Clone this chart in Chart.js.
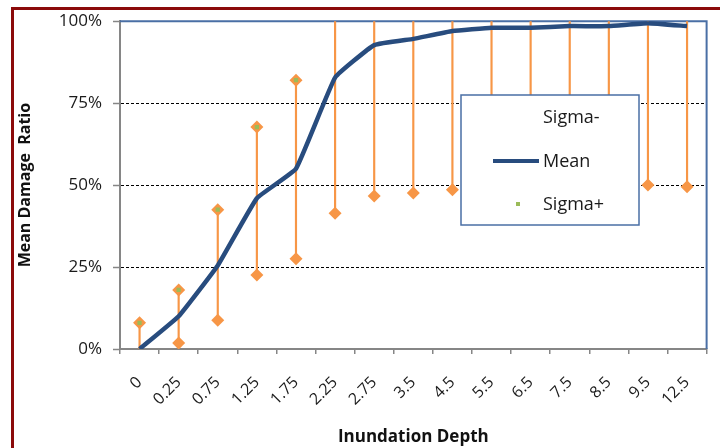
<!DOCTYPE html>
<html lang="en">
<head>
    <meta charset="UTF-8">
    <title>Mean Damage Ratio</title>
    <script src="https://cdn.jsdelivr.net/npm/chart.js"></script>
    <style>
        body { margin: 0; background: #fff; }
        .wrap { position: relative; width: 720px; height: 448px; }
        .frame {
            position: absolute; left: 11px; top: 7px; right: 0; bottom: 0;
            border-left: 3px solid #8b0a0a; border-top: 3px solid #8b0a0a;
            pointer-events: none;
        }
    </style>
</head>
<body>
    <div class="wrap">
        <canvas id="damageChart" width="720" height="448"></canvas>
        <div class="frame"></div>
    </div>

    <script>
        // depth categories and values
        const depths = ['0', '0.25', '0.75', '1.25', '1.75', '2.25', '2.75', '3.5', '4.5', '5.5', '6.5', '7.5', '8.5', '9.5', '12.5'];
        const meanRatio = [0, 0.10, 0.255, 0.46, 0.55, 0.828, 0.927, 0.946, 0.97, 0.98, 0.98, 0.985, 0.985, 0.994, 0.985];
        const sigmaMinus = [-0.08, 0.018, 0.088, 0.226, 0.275, 0.414, 0.467, 0.476, 0.486, 0.49, 0.495, 0.495, 0.5, 0.5, 0.495];
        const sigmaPlus = [0.08, 0.18, 0.425, 0.677, 0.82, 1.24, 1.39, 1.42, 1.45, 1.47, 1.47, 1.48, 1.48, 1.49, 1.48];
        const yTicks = [0, 0.25, 0.5, 0.75, 1];
        const seriesNames = ['Sigma-', 'Mean', 'Sigma+'];

        const blue = '#284c7e';
        const orange = '#f79646';
        const green = '#9bbb59';
        const gray = '#868686';
        const frameBlue = '#4a6fa5';

        // plot frame (top + right) in blue
        const plotFrame = {
            id: 'plotFrame',
            beforeDatasetsDraw(chart) {
                const a = chart.chartArea;
                const ctx = chart.ctx;
                ctx.save();
                ctx.strokeStyle = frameBlue;
                ctx.lineWidth = 2;
                ctx.beginPath();
                ctx.moveTo(a.left, a.top);
                ctx.lineTo(a.right, a.top);
                ctx.lineTo(a.right, a.bottom);
                ctx.stroke();
                ctx.restore();
            }
        };

        // legend box sitting inside the plot
        const boxLegend = {
            id: 'boxLegend',
            afterDatasetsDraw(chart) {
                const ctx = chart.ctx;
                ctx.save();
                ctx.fillStyle = '#fff';
                ctx.fillRect(461, 95, 178, 130);
                ctx.strokeStyle = frameBlue;
                ctx.lineWidth = 1.5;
                ctx.strokeRect(461, 95, 178, 130);

                ctx.font = '18px "Open Sans"';
                ctx.fillStyle = '#1a1a1a';
                ctx.textBaseline = 'middle';
                ctx.fillText(seriesNames[0], 543, 118);
                ctx.fillText(seriesNames[1], 543, 162);
                ctx.fillText(seriesNames[2], 543, 205);

                ctx.strokeStyle = blue;
                ctx.lineWidth = 4;
                ctx.beginPath();
                ctx.moveTo(493, 161);
                ctx.lineTo(539, 161);
                ctx.stroke();

                ctx.fillStyle = green;
                ctx.fillRect(516, 202, 4, 4);
                ctx.restore();
            }
        };

        const ctx = document.getElementById('damageChart').getContext('2d');
        const damageChart = new Chart(ctx, {
            data: {
                labels: depths,
                datasets: [
                    {
                        type: 'line',
                        label: seriesNames[2],
                        data: sigmaPlus,
                        showLine: false,
                        pointStyle: 'rect',
                        pointRadius: 3,
                        pointBorderWidth: 0,
                        pointBackgroundColor: green,
                        order: 0
                    },
                    {
                        type: 'line',
                        label: seriesNames[2] + ' marker',
                        data: sigmaPlus,
                        showLine: false,
                        pointStyle: 'rectRot',
                        pointRadius: 6.5,
                        pointBorderWidth: 0,
                        pointBackgroundColor: orange,
                        order: 1
                    },
                    {
                        type: 'line',
                        label: seriesNames[0],
                        data: sigmaMinus,
                        showLine: false,
                        pointStyle: 'rectRot',
                        pointRadius: 6.5,
                        pointBorderWidth: 0,
                        pointBackgroundColor: orange,
                        order: 1
                    },
                    {
                        type: 'line',
                        label: seriesNames[1],
                        data: meanRatio,
                        borderColor: blue,
                        borderWidth: 4.5,
                        pointRadius: 0,
                        tension: 0.1,
                        order: 2
                    },
                    {
                        type: 'bar',
                        label: 'High-Low',
                        data: depths.map((d, i) => [sigmaMinus[i], sigmaPlus[i]]),
                        backgroundColor: orange,
                        barThickness: 1.5,
                        order: 3
                    }
                ]
            },
            options: {
                responsive: false,
                animation: false,
                layout: { padding: { top: 18, right: 11, left: 12, bottom: 0 } },
                plugins: {
                    legend: { display: false },
                    tooltip: { enabled: false }
                },
                scales: {
                    x: {
                        offset: true,
                        grid: {
                            offset: true,
                            drawOnChartArea: false,
                            tickLength: 5,
                            tickColor: gray,
                            lineWidth: 1.5
                        },
                        border: { color: gray, width: 2 },
                        ticks: {
                            minRotation: 45,
                            maxRotation: 45,
                            padding: 19,
                            color: '#1a1a1a',
                            font: { family: 'Open Sans', size: 16 }
                        },
                        title: {
                            display: true,
                            text: 'Inundation Depth',
                            color: '#111',
                            padding: { top: 0, bottom: 1 },
                            font: { family: 'Open Sans', size: 17, weight: 'bold' }
                        },
                        afterFit(scale) { scale.height = 99; }
                    },
                    y: {
                        min: 0,
                        max: 1,
                        afterBuildTicks(scale) { scale.ticks = yTicks.map(v => ({ value: v })); },
                        grid: {
                            color: c => (c.tick && (c.tick.value === 0 || c.tick.value === 1)) ? 'rgba(0,0,0,0)' : '#000',
                            tickLength: 7,
                            tickColor: gray,
                            tickWidth: 1.5,
                            tickBorderDash: [1, 0]
                        },
                        border: { color: gray, width: 2, dash: [3, 2] },
                        ticks: {
                            padding: 11,
                            color: '#1a1a1a',
                            font: { family: 'Open Sans', size: 17 },
                            callback: v => Math.round(v * 100) + '%'
                        },
                        title: {
                            display: true,
                            text: 'Mean Damage  Ratio',
                            color: '#111',
                            font: { family: 'Open Sans', size: 16, weight: 'bold' }
                        },
                        afterFit(scale) { scale.width = 108; }
                    }
                }
            },
            plugins: [plotFrame, boxLegend]
        });
    </script>
</body>
</html>
